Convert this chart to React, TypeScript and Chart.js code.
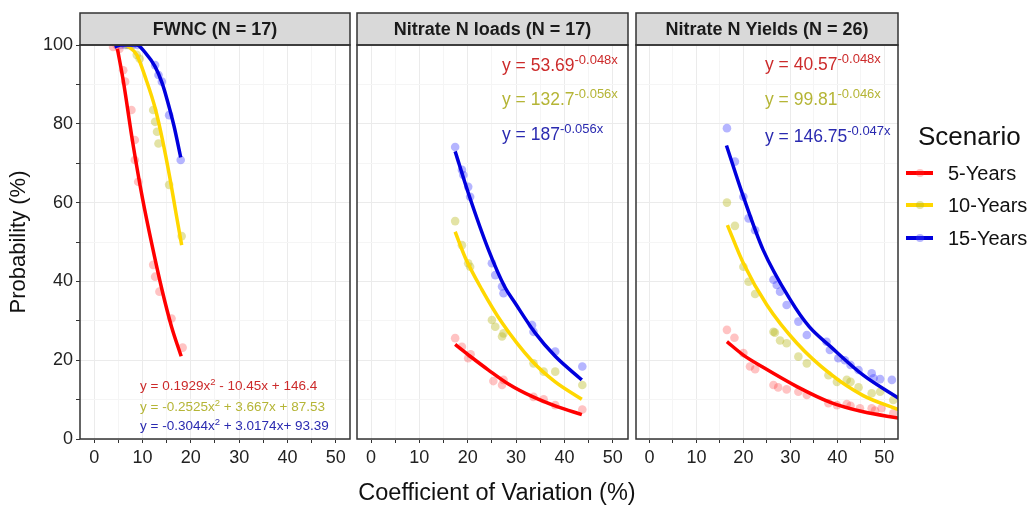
import React, { useEffect, useRef } from "react";
import { Chart, registerables } from "chart.js";

Chart.register(...registerables);

const FONT = "'Liberation Sans', Arial, Helvetica, sans-serif";

// ---------- labels ----------
const panelTitles = ["FWNC (N = 17)", "Nitrate N loads (N = 17)", "Nitrate N Yields (N = 26)"];
const scenarios = ["5-Years", "10-Years", "15-Years"];
const xAxisTitle = "Coefficient of Variation (%)";
const yAxisTitle = "Probability (%)";
const legendTitle = "Scenario";

// ---------- colours ----------
const LINE_COLORS = ["#ff0000", "#ffd700", "#0000dd"];
const POINT_COLORS = ["rgba(255,40,40,0.28)", "rgba(185,185,30,0.40)", "rgba(60,60,255,0.38)"];
const EQ_COLORS = ["#cc2b2b", "#b5b536", "#2a2ab0"];

// ---------- FWNC (observed points + fitted curves) ----------
const fwnc5Pts = [[3.9, 99.5], [4.6, 100], [5.2, 99], [6.0, 93.6], [6.4, 90.7], [7.7, 83.5], [8.4, 75.9], [8.4, 70.8], [9.1, 65.3], [12.2, 44.2], [12.6, 41.2], [13.5, 37.4], [16.0, 30.6], [18.3, 23.2]];
const fwnc10Pts = [[6.8, 100], [7.6, 100], [8.8, 97.5], [9.4, 96.5], [12.2, 83.5], [12.6, 80.5], [13.0, 78], [13.3, 75], [15.5, 64.5], [18.1, 51.5]];
const fwnc15Pts = [[5.5, 100], [6.4, 100], [7.2, 100], [8.0, 100], [9.0, 100], [12.6, 94.9], [13.3, 92.4], [14.0, 90.7], [15.5, 82.2], [17.9, 70.8]];
const fwnc5Line = [[4.8, 99], [6, 91], [8, 75], [10, 61], [12, 49], [14, 38], [16, 28.5], [18, 21]];
const fwnc10Line = [[6.6, 100], [8.8, 97.5], [10.8, 91], [12.6, 84], [14.2, 75.5], [15.7, 66], [16.9, 57.5], [18.1, 49.2]];
const fwnc15Line = [[4.2, 99.5], [5.5, 100], [8.8, 100], [10.6, 98], [12.6, 94.5], [14.0, 90.5], [15.0, 86.5], [16.5, 79.5], [17.9, 71.5]];

// ---------- Nitrate N loads ----------
const loads5Pts = [[17.4, 25.6], [18.8, 23.4], [20.1, 20.5], [20.6, 21.5], [25.3, 14.7], [27.1, 13.7], [27.4, 15.0], [33.6, 10.7], [35.7, 10.1], [38.1, 8.6], [43.7, 7.5]];
const loads10Pts = [[17.4, 55.3], [18.8, 49.2], [20.1, 44.6], [20.5, 43.7], [25.0, 30.2], [25.7, 28.5], [27.1, 26.0], [27.4, 26.8], [33.6, 19.2], [35.7, 17.1], [38.1, 17.1], [43.7, 13.7]];
const loads15Pts = [[17.4, 74.1], [18.8, 68.3], [19.1, 67], [20.1, 64], [20.5, 61.5], [25.0, 44.6], [25.7, 41.6], [27.1, 38.7], [27.4, 37.0], [33.3, 28.9], [33.6, 27.2], [38.1, 22.2], [43.7, 18.4]];
const loads5Line = [[17.4, 24], [20.5, 21], [24.3, 17.5], [28.5, 13.9], [33.3, 10.8], [38.5, 8.2], [43.6, 6.2]];
const loads10Line = [[17.4, 52.6], [19.5, 46], [22.9, 38], [27.1, 29.5], [33.3, 19.8], [38.1, 14.5], [43.6, 10.1]];
const loads15Line = [[17.4, 73], [20.1, 62.5], [24.3, 48], [27.7, 38.5], [29.8, 34.5], [33.9, 27], [38.1, 21], [43.6, 15]];

// ---------- Nitrate N yields ----------
const yields5Pts = [[16.5, 27.7], [18.1, 25.7], [20.0, 21.8], [21.4, 18.4], [22.5, 17.7], [26.4, 13.7], [27.4, 13.1], [29.2, 12.6], [31.7, 12.0], [33.5, 11.2], [38.1, 9.1], [39.9, 8.6], [42.0, 8.9], [42.8, 8.4], [44.8, 7.8], [47.3, 7.8], [48.0, 7.2], [49.4, 7.8], [51.9, 6.5]];
const yields10Pts = [[16.5, 60.0], [18.2, 54.1], [20.0, 43.7], [21.1, 39.9], [22.5, 36.8], [26.4, 27.2], [26.7, 27.0], [27.8, 25.0], [29.2, 24.3], [31.7, 20.9], [33.5, 19.2], [38.1, 16.2], [39.9, 14.5], [42.0, 15.0], [42.8, 14.5], [44.5, 13.1], [47.3, 11.6], [49.1, 12.0], [51.9, 9.9]];
const yields15Pts = [[16.5, 78.9], [18.2, 70.4], [20.0, 61.5], [21.1, 56.0], [22.5, 53.0], [26.4, 40.4], [27.1, 39.1], [27.8, 37.4], [29.2, 34.0], [31.7, 29.8], [33.5, 26.4], [37.7, 24.7], [38.4, 22.6], [40.2, 20.5], [41.6, 20.0], [42.8, 18.8], [44.5, 17.5], [47.3, 16.7], [47.7, 15.4], [49.1, 15.2], [51.6, 15.0]];
const yields5Line = [[16.5, 24.7], [20, 21.3], [24.2, 18.2], [31.4, 13.3], [38.5, 9.3], [45.5, 6.9], [53.1, 5.3]];
const yields10Line = [[16.6, 54.3], [20.0, 44.6], [25.0, 34], [31.4, 24.3], [38.5, 16.5], [45.5, 11.0], [53.1, 7.4]];
const yields15Line = [[16.4, 74.5], [20.0, 61.5], [24.2, 48.0], [30.0, 35.3], [34, 28.5], [38.5, 23.5], [45.5, 16.2], [53.1, 10.3]];

// ---------- equation annotations ----------
const fwncEqs = [
  [["y = 0.1929x", false], ["2", true], [" - 10.45x + 146.4", false]],
  [["y = -0.2525x", false], ["2", true], [" + 3.667x + 87.53", false]],
  [["y = -0.3044x", false], ["2", true], [" + 3.0174x+ 93.39", false]],
];
const loadsEqs = [
  [["y = 53.69", false], ["-0.048x", true]],
  [["y = 132.7", false], ["-0.056x", true]],
  [["y = 187", false], ["-0.056x", true]],
];
const yieldsEqs = [
  [["y = 40.57", false], ["-0.048x", true]],
  [["y = 99.81", false], ["-0.046x", true]],
  [["y = 146.75", false], ["-0.047x", true]],
];

type Panel = {
  title: string;
  pts: number[][][];
  lines: number[][][];
  left: number;
  right: number;
  xMin: number;
  xMax: number;
  yLabels: boolean;
  eqs: any[];
  eqX: number;
  eqY: number[];
  eqSize: number;
  supSize: number;
  supRise: number;
};

const panels: Panel[] = [
  {
    title: panelTitles[0], pts: [fwnc5Pts, fwnc10Pts, fwnc15Pts], lines: [fwnc5Line, fwnc10Line, fwnc15Line],
    left: 80, right: 350, xMin: -2.95, xMax: 52.95, yLabels: true,
    eqs: fwncEqs, eqX: 140, eqY: [385, 406, 425], eqSize: 13.5, supSize: 9.5, supRise: 5,
  },
  {
    title: panelTitles[1], pts: [loads5Pts, loads10Pts, loads15Pts], lines: [loads5Line, loads10Line, loads15Line],
    left: 357, right: 628, xMin: -2.9, xMax: 53.15, yLabels: false,
    eqs: loadsEqs, eqX: 502, eqY: [65, 99, 134], eqSize: 17.5, supSize: 13, supRise: 7,
  },
  {
    title: panelTitles[2], pts: [yields5Pts, yields10Pts, yields15Pts], lines: [yields5Line, yields10Line, yields15Line],
    left: 636, right: 898, xMin: -2.85, xMax: 52.9, yLabels: false,
    eqs: yieldsEqs, eqX: 765, eqY: [64, 99, 136], eqSize: 17.5, supSize: 13, supRise: 7,
  },
];

const STRIP_TOP = 13;
const PLOT_TOP = 45;
const PLOT_BOTTOM = 439;
const W = 1028;
const H = 505;

const toXY = (a: number[][]) => a.map(([x, y]) => ({ x, y }));

function makePlugin(p: Panel) {
  return {
    id: "panelDecor",
    afterDraw(chart: any) {
      const { ctx, chartArea: a } = chart;
      ctx.save();
      ctx.fillStyle = "#d9d9d9";
      ctx.fillRect(a.left, STRIP_TOP, a.right - a.left, a.top - STRIP_TOP);
      ctx.strokeStyle = "#333333";
      ctx.lineWidth = 1.5;
      ctx.strokeRect(a.left, STRIP_TOP, a.right - a.left, a.top - STRIP_TOP);
      ctx.strokeRect(a.left, a.top, a.right - a.left, a.bottom - a.top);
      ctx.fillStyle = "#1a1a1a";
      ctx.font = `bold 18px ${FONT}`;
      ctx.textAlign = "center";
      ctx.textBaseline = "middle";
      ctx.fillText(p.title, (a.left + a.right) / 2, (STRIP_TOP + a.top) / 2 + 1);
      ctx.textAlign = "left";
      ctx.textBaseline = "alphabetic";
      p.eqs.forEach((segs: any[], i: number) => {
        let x = p.eqX;
        const base = p.eqY[i] + p.eqSize * 0.36;
        ctx.fillStyle = EQ_COLORS[i];
        segs.forEach(([t, sup]: [string, boolean]) => {
          ctx.font = `${sup ? p.supSize : p.eqSize}px ${FONT}`;
          ctx.fillText(t, x, sup ? base - p.supRise : base);
          x += ctx.measureText(t).width;
        });
      });
      ctx.restore();
    },
  };
}

function makeConfig(p: Panel): any {
  const lineSets = p.lines.map((l, k) => ({
    data: toXY(l),
    showLine: true,
    borderColor: LINE_COLORS[k],
    borderWidth: 3.5,
    pointRadius: 0,
    cubicInterpolationMode: "monotone",
    order: 2 - k,
  }));
  const ptSets = p.pts.map((ps, k) => ({
    data: toXY(ps),
    showLine: false,
    backgroundColor: POINT_COLORS[k],
    borderWidth: 0,
    pointRadius: 4.3,
    order: 10,
  }));
  return {
    type: "scatter",
    data: { datasets: [...lineSets, ...ptSets] },
    options: {
      responsive: false,
      animation: false,
      devicePixelRatio: 1,
      layout: {
        padding: { left: p.left - (p.yLabels ? 80 : 0), right: W - p.right, top: PLOT_TOP, bottom: 0 },
      },
      plugins: { legend: { display: false }, tooltip: { enabled: false } },
      scales: {
        x: {
          type: "linear",
          min: p.xMin,
          max: p.xMax,
          afterFit: (s: any) => { s.height = H - PLOT_BOTTOM; },
          border: { display: false },
          grid: {
            color: (c: any) => (c.tick && c.tick.value % 10 === 0 ? "#ebebeb" : "#f5f5f5"),
            lineWidth: 1,
            tickColor: "#333333",
            tickLength: 4,
            drawTicks: true,
          },
          ticks: {
            stepSize: 5,
            includeBounds: false,
            autoSkip: false,
            maxRotation: 0,
            padding: 4,
            color: "#222222",
            font: { size: 18, family: FONT },
            callback: (v: any) => (Number(v) % 10 === 0 ? String(v) : ""),
          },
        },
        y: {
          type: "linear",
          min: 0,
          max: 100,
          afterFit: (s: any) => { s.width = p.yLabels ? 80 : 0; },
          border: { display: false },
          grid: {
            color: (c: any) => (c.tick && c.tick.value % 20 === 0 ? "#ebebeb" : "#f5f5f5"),
            lineWidth: 1,
            tickColor: "#333333",
            tickLength: 4,
            drawTicks: p.yLabels,
          },
          ticks: {
            display: p.yLabels,
            stepSize: 10,
            autoSkip: false,
            padding: 3,
            color: "#222222",
            font: { size: 18, family: FONT },
            callback: (v: any) => (Number(v) % 20 === 0 ? String(v) : ""),
          },
        },
      },
    },
    plugins: [makePlugin(p)],
  };
}

export default function App() {
  const r0 = useRef<HTMLCanvasElement>(null);
  const r1 = useRef<HTMLCanvasElement>(null);
  const r2 = useRef<HTMLCanvasElement>(null);

  useEffect(() => {
    document.body.style.margin = "0";
    const refs = [r0, r1, r2];
    const charts = panels.map((p, i) => new Chart(refs[i].current as HTMLCanvasElement, makeConfig(p)));
    return () => charts.forEach((c) => c.destroy());
  }, []);

  const canvasStyle: React.CSSProperties = { position: "absolute", left: 0, top: 0, width: W, height: H };
  const legendY = [173, 205, 238];

  return (
    <div style={{ position: "relative", width: W, height: H, background: "#fff", fontFamily: FONT, overflow: "hidden" }}>
      <canvas ref={r0} width={W} height={H} style={canvasStyle} />
      <canvas ref={r1} width={W} height={H} style={canvasStyle} />
      <canvas ref={r2} width={W} height={H} style={canvasStyle} />
      <div style={{ position: "absolute", left: -82, top: 229, width: 200, height: 26, lineHeight: "26px", textAlign: "center", fontSize: 22, color: "#111", transform: "rotate(-90deg)" }}>
        {yAxisTitle}
      </div>
      <div style={{ position: "absolute", left: 297, top: 479, width: 400, height: 26, lineHeight: "26px", textAlign: "center", fontSize: 23.5, color: "#111", whiteSpace: "nowrap" }}>
        {xAxisTitle}
      </div>
      <div style={{ position: "absolute", left: 918, top: 122, height: 28, lineHeight: "28px", fontSize: 26, color: "#111", whiteSpace: "nowrap" }}>
        {legendTitle}
      </div>
      {scenarios.map((s, i) => (
        <React.Fragment key={s}>
          <div style={{ position: "absolute", left: 906, top: legendY[i] - 2, width: 27, height: 4, background: LINE_COLORS[i] }} />
          <div style={{ position: "absolute", left: 916, top: legendY[i] - 4, width: 8, height: 8, borderRadius: 4, background: POINT_COLORS[i] }} />
          <div style={{ position: "absolute", left: 948, top: legendY[i] - 11, height: 22, lineHeight: "22px", fontSize: 20, color: "#111", whiteSpace: "nowrap" }}>
            {s}
          </div>
        </React.Fragment>
      ))}
    </div>
  );
}
